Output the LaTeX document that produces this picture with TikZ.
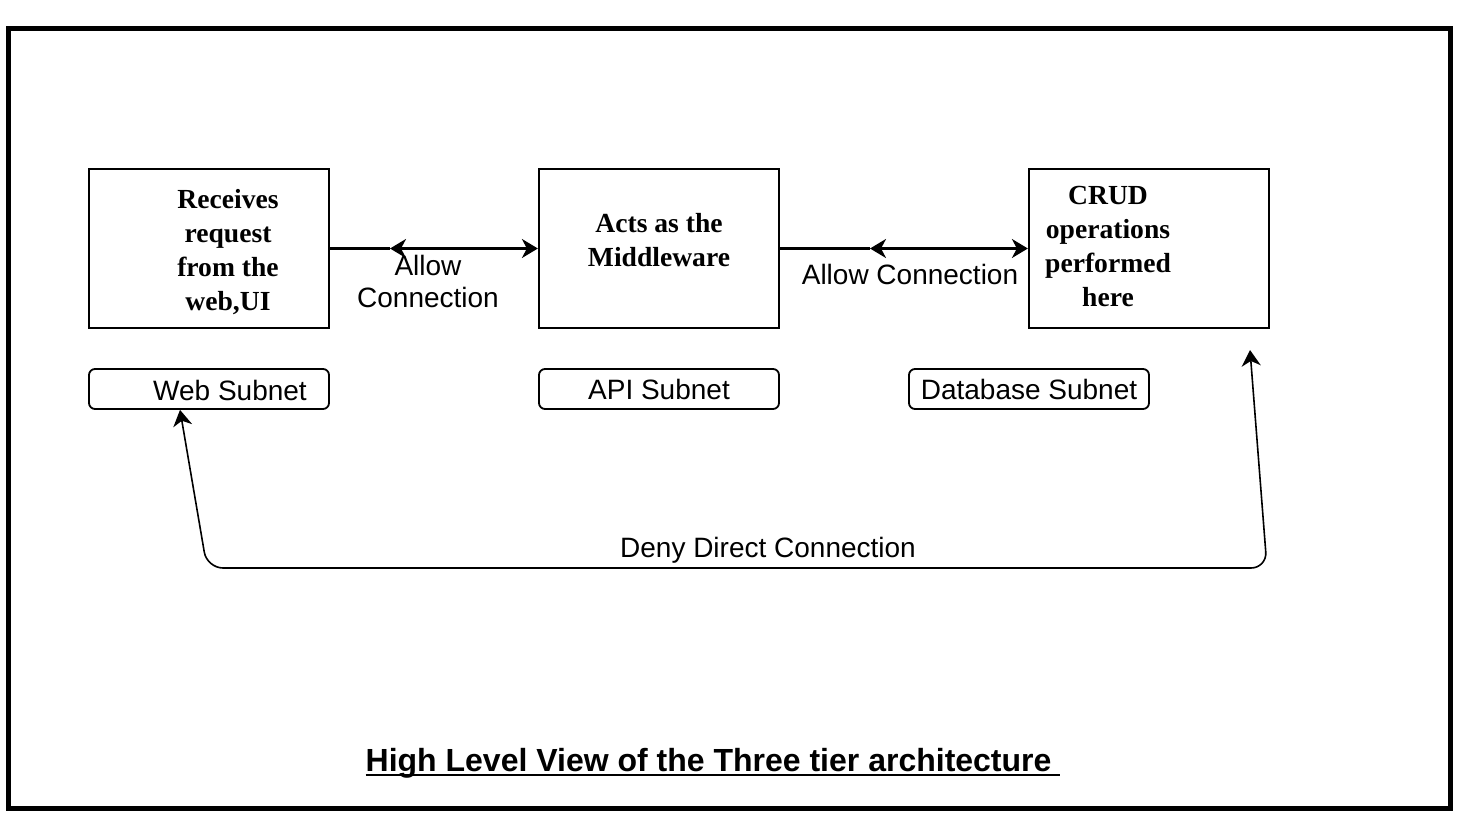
\documentclass[tikz,border=0pt]{standalone}
\usepackage{fontspec}
\setmainfont{Liberation Serif}
\setsansfont{Liberation Sans}
\newcommand{\thickul}[1]{\setbox0\hbox{#1}\rlap{\rule[-2.5pt]{\wd0}{1.1pt}}\box0}
\usetikzlibrary{arrows.meta}
\begin{document}
\begin{tikzpicture}[x=0.5pt,y=-0.5pt,
    >={Stealth[length=8pt,width=9.5pt,inset=2.5pt]},
    tier/.style={draw,line width=1.1pt,minimum width=120pt,minimum height=79.5pt,inner sep=0pt},
    subnet/.style={draw,rounded corners=3pt,line width=0.9pt,minimum width=120pt,minimum height=20pt,inner sep=0pt},
    tiertext/.style={align=center,inner sep=0pt,font=\bfseries\fontsize{13.8}{17}\selectfont},
    lbl/.style={align=center,inner sep=0pt,font=\sffamily\fontsize{14}{16}\selectfont}]
  \useasboundingbox (0,0) rectangle (1466,828);
  \draw[line width=2.5pt] (8,29) rectangle (1450,808);
  \draw
    (209,248.5) node[tier] (web){}
    (659,248.5) node[tier] (api){}
    (1149,248.5) node[tier] (db){}
    (228,252) node[tiertext] (webtext){Receives\\request\\from the\\web,UI}
    (659,240) node[tiertext] (apitext){Acts as the\\Middleware}
    (1108,246.5) node[tiertext] (dbtext){CRUD\\operations\\performed\\here}
    (209,389) node[subnet] (websub){}
    (230,390) node[lbl] (websubtext){Web Subnet}
    (659,389) node[subnet,lbl] (apisub){API Subnet}
    (1029,389) node[subnet,lbl] (dbsub){Database Subnet};
  \coordinate (allowa) at (390,248.5);
  \coordinate (allowb) at (870,248.5);
  \coordinate (webtip) at ([xshift=-14.5pt]websub.south);
  \coordinate (dbtip) at (1250,350);
  \begin{scope}[line width=1.1pt]
    \draw (web.east) -- (allowa);
    \draw[<->] (allowa) -- (api.west);
    \draw (api.east) -- (allowb);
    \draw[<->] (allowb) -- (db.west);
  \end{scope}
  \draw[<->,line width=0.8pt,rounded corners=8pt]
    (webtip) -- (207,568) -- (1267,568) -- (dbtip);
  \draw
    (428,281) node[lbl] (allowatext){Allow\\Connection}
    (910,274) node[lbl] (allowbtext){Allow Connection}
    (768,550) node[lbl] (denytext){Deny Direct Connection}
    (713,763) node[inner sep=0pt,font=\sffamily\bfseries\fontsize{16}{19}\selectfont] (title){\thickul{High Level View of the Three tier architecture\ }};
\end{tikzpicture}
\end{document}
